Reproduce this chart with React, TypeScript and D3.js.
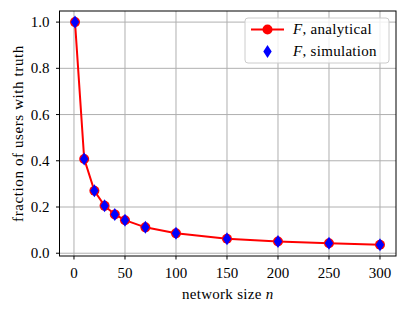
import * as d3 from "d3"

const sizes = [1, 10, 20, 30, 40, 50, 70, 100, 150, 200, 250, 300]
const analytical = [1.0, 0.408, 0.27, 0.205, 0.168, 0.143, 0.112, 0.086, 0.063, 0.051, 0.043, 0.037]
const simulation = [1.0, 0.408, 0.27, 0.205, 0.168, 0.143, 0.112, 0.086, 0.063, 0.051, 0.043, 0.037]
const xTicks = [0, 50, 100, 150, 200, 250, 300]
const yTicks = [0, 0.2, 0.4, 0.6, 0.8, 1.0]

const W = 407
const H = 311
const margin = { top: 11, right: 11, bottom: 55, left: 59.5 }
const font = "Liberation Serif, Times New Roman, serif"
const fs = 15

// diamond marker, taller than wide
const diamond = (cx: number, cy: number, w = 4.2, h = 6.5) =>
  `M${cx},${cy - h}L${cx + w},${cy}L${cx},${cy + h}L${cx - w},${cy}Z`

export default function App() {
  const x = d3.scaleLinear().domain([-14.2, 315.7]).range([margin.left, W - margin.right])
  const y = d3.scaleLinear().domain([-0.012, 1.048]).range([H - margin.bottom, margin.top])
  const pts = sizes.map((n, i) => [x(n), y(analytical[i])] as [number, number])
  const line = d3.line()(pts) || ""
  const x0 = margin.left
  const x1 = W - margin.right
  const y0 = H - margin.bottom
  const y1 = margin.top

  return (
    <svg
      width={W}
      height={H}
      style={{ position: "absolute", left: 0, top: 0, background: "white", fontFamily: font }}
    >
      {/* grid */}
      {xTicks.map((t) => (
        <line key={"gx" + t} x1={x(t)} x2={x(t)} y1={y1} y2={y0} stroke="#b0b0b0" strokeWidth={1} />
      ))}
      {yTicks.map((t) => (
        <line key={"gy" + t} x1={x0} x2={x1} y1={y(t)} y2={y(t)} stroke="#b0b0b0" strokeWidth={1} />
      ))}

      {/* analytical line + circles */}
      <path d={line} fill="none" stroke="red" strokeWidth={2} />
      {pts.map(([px, py], i) => (
        <circle key={"c" + i} cx={px} cy={py} r={5} fill="red" />
      ))}
      {/* simulation diamonds */}
      {sizes.map((n, i) => (
        <path key={"d" + i} d={diamond(x(n), y(simulation[i]))} fill="blue" />
      ))}

      {/* spines */}
      <rect x={x0} y={y1} width={x1 - x0} height={y0 - y1} fill="none" stroke="black" strokeWidth={1} />

      {/* x ticks */}
      {xTicks.map((t) => (
        <g key={"tx" + t}>
          <line x1={x(t)} x2={x(t)} y1={y0} y2={y0 + 3.5} stroke="black" />
          <text x={x(t)} y={278} textAnchor="middle" fontSize={fs}>
            {t}
          </text>
        </g>
      ))}
      {/* y ticks */}
      {yTicks.map((t) => (
        <g key={"ty" + t}>
          <line x1={x0 - 3.5} x2={x0} y1={y(t)} y2={y(t)} stroke="black" />
          <text x={x0 - 10} y={y(t) + 5} textAnchor="end" fontSize={fs}>
            {t.toFixed(1)}
          </text>
        </g>
      ))}

      {/* axis labels */}
      <text x={(x0 + x1) / 2} y={299} textAnchor="middle" fontSize={fs} letterSpacing={0.3}>
        network size <tspan fontStyle="italic">n</tspan>
      </text>
      <text
        transform={`translate(23,${(y0 + y1) / 2}) rotate(-90)`}
        textAnchor="middle"
        fontSize={fs}
        letterSpacing={0.6}
      >
        fraction of users with truth
      </text>

      {/* legend */}
      <g>
        <rect x={245} y={18} width={144} height={45} rx={3} fill="white" fillOpacity={0.8} stroke="#cccccc" />
        <line x1={251} x2={284} y1={29.5} y2={29.5} stroke="red" strokeWidth={2} />
        <circle cx={267.5} cy={29.5} r={5} fill="red" />
        <text x={293} y={34} fontSize={fs} letterSpacing={0.3}>
          <tspan fontStyle="italic">F</tspan>, analytical
        </text>
        <path d={diamond(267.5, 51.5)} fill="blue" />
        <text x={293} y={56} fontSize={fs} letterSpacing={0.3}>
          <tspan fontStyle="italic">F</tspan>, simulation
        </text>
      </g>
    </svg>
  )
}
